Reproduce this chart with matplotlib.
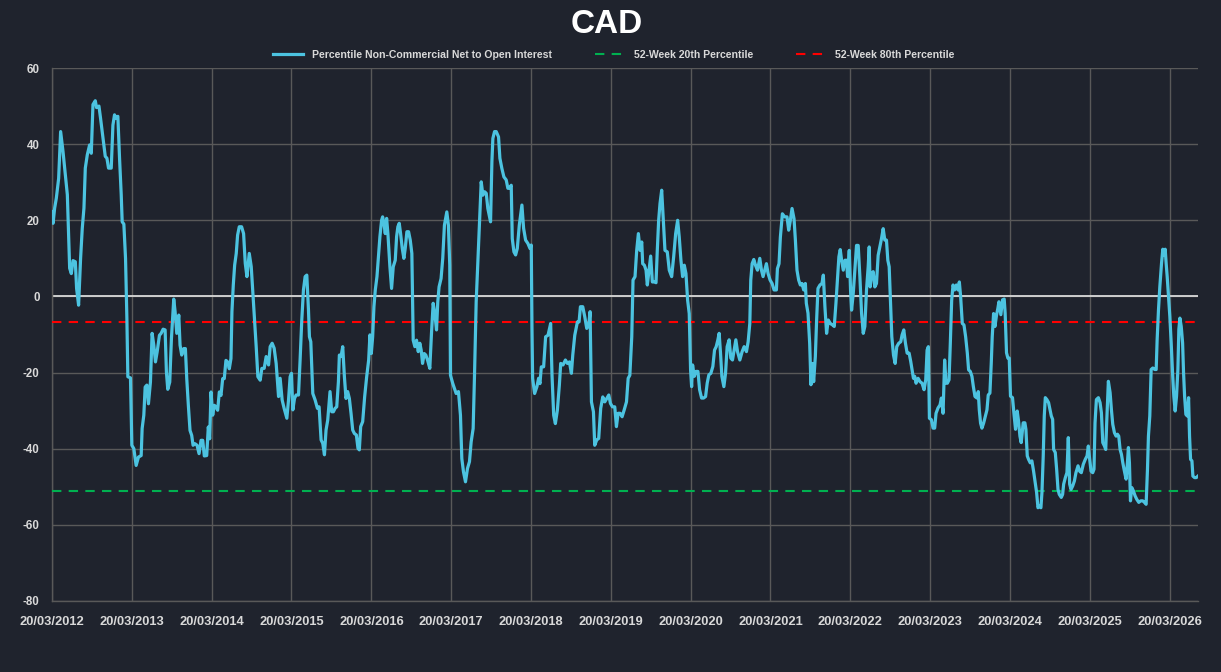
import matplotlib

matplotlib.use("Agg")

import numpy as np
import pandas as pd
from matplotlib import pyplot as plt
from matplotlib import font_manager

# weekly readings (decimal year, percentile value)
years = [
    2012.215, 2012.228, 2012.248, 2012.269, 2012.298, 2012.323, 2012.353, 2012.382, 2012.407, 2012.423,
    2012.436, 2012.457, 2012.478, 2012.507, 2012.523, 2012.548, 2012.573, 2012.594, 2012.615, 2012.632,
    2012.657, 2012.686, 2012.707, 2012.728, 2012.757, 2012.773, 2012.803, 2012.823, 2012.853, 2012.882,
    2012.903, 2012.923, 2012.957, 2012.978, 2012.998, 2013.019, 2013.040, 2013.061, 2013.082, 2013.094,
    2013.115, 2013.136, 2013.153, 2013.165, 2013.198, 2013.215, 2013.240, 2013.269, 2013.298, 2013.332,
    2013.344, 2013.365, 2013.382, 2013.403, 2013.423, 2013.448, 2013.469, 2013.490, 2013.511, 2013.532,
    2013.561, 2013.582, 2013.607, 2013.632, 2013.648, 2013.665, 2013.690, 2013.711, 2013.728, 2013.740,
    2013.757, 2013.778, 2013.803, 2013.819, 2013.840, 2013.865, 2013.886, 2013.903, 2013.923, 2013.944,
    2013.965, 2013.982, 2014.007, 2014.032, 2014.057, 2014.082, 2014.103, 2014.123, 2014.153, 2014.173,
    2014.190, 2014.207, 2014.228, 2014.248, 2014.269, 2014.290, 2014.311, 2014.332, 2014.353, 2014.373,
    2014.394, 2014.415, 2014.436, 2014.457, 2014.469, 2014.486, 2014.503, 2014.523, 2014.540, 2014.561,
    2014.590, 2014.615, 2014.636, 2014.657, 2014.686, 2014.711, 2014.732, 2014.753, 2014.773, 2014.794,
    2014.823, 2014.844, 2014.873, 2014.898, 2014.928, 2014.948, 2014.973, 2014.998, 2015.023, 2015.053,
    2015.073, 2015.098, 2015.123, 2015.157, 2015.178, 2015.198, 2015.215, 2015.232, 2015.253, 2015.273,
    2015.303, 2015.323, 2015.344, 2015.365, 2015.386, 2015.407, 2015.428, 2015.440, 2015.457, 2015.482,
    2015.511, 2015.540, 2015.561, 2015.586, 2015.607, 2015.628, 2015.648, 2015.669, 2015.698, 2015.719,
    2015.740, 2015.761, 2015.782, 2015.803, 2015.815, 2015.836, 2015.857, 2015.878, 2015.898, 2015.919,
    2015.940, 2015.961, 2015.982, 2016.003, 2016.028, 2016.048, 2016.065, 2016.082, 2016.107, 2016.132,
    2016.157, 2016.182, 2016.198, 2016.215, 2016.232, 2016.248, 2016.265, 2016.286, 2016.307, 2016.323,
    2016.344, 2016.357, 2016.373, 2016.390, 2016.407, 2016.423, 2016.448, 2016.469, 2016.490, 2016.515,
    2016.532, 2016.548, 2016.565, 2016.582, 2016.603, 2016.623, 2016.640, 2016.661, 2016.682, 2016.703,
    2016.723, 2016.732, 2016.740, 2016.761, 2016.782, 2016.803, 2016.823, 2016.840, 2016.857, 2016.878,
    2016.898, 2016.919, 2016.948, 2016.969, 2016.990, 2017.011, 2017.032, 2017.048, 2017.064, 2017.089,
    2017.110, 2017.131, 2017.161, 2017.181, 2017.198, 2017.207, 2017.236, 2017.257, 2017.278, 2017.307,
    2017.332, 2017.349, 2017.370, 2017.395, 2017.420, 2017.445, 2017.466, 2017.491, 2017.508, 2017.529,
    2017.550, 2017.571, 2017.592, 2017.613, 2017.634, 2017.655, 2017.675, 2017.709, 2017.726, 2017.738,
    2017.759, 2017.780, 2017.809, 2017.826, 2017.851, 2017.876, 2017.905, 2017.926, 2017.947, 2017.968,
    2017.981, 2018.002, 2018.023, 2018.044, 2018.069, 2018.102, 2018.123, 2018.148, 2018.177, 2018.203,
    2018.219, 2018.228, 2018.236, 2018.261, 2018.290, 2018.311, 2018.328, 2018.345, 2018.374, 2018.399,
    2018.429, 2018.462, 2018.479, 2018.500, 2018.521, 2018.546, 2018.571, 2018.588, 2018.617, 2018.647,
    2018.672, 2018.697, 2018.722, 2018.739, 2018.764, 2018.797, 2018.818, 2018.835, 2018.864, 2018.889,
    2018.914, 2018.939, 2018.956, 2018.973, 2018.998, 2019.014, 2019.039, 2019.064, 2019.089, 2019.115,
    2019.140, 2019.165, 2019.190, 2019.211, 2019.236, 2019.265, 2019.286, 2019.307, 2019.332, 2019.357,
    2019.382, 2019.412, 2019.433, 2019.454, 2019.478, 2019.494, 2019.519, 2019.540, 2019.561, 2019.582,
    2019.603, 2019.615, 2019.636, 2019.657, 2019.673, 2019.694, 2019.715, 2019.736, 2019.761, 2019.782,
    2019.798, 2019.815, 2019.832, 2019.853, 2019.869, 2019.894, 2019.923, 2019.948, 2019.978, 2020.003,
    2020.028, 2020.053, 2020.073, 2020.094, 2020.115, 2020.136, 2020.157, 2020.178, 2020.198, 2020.215,
    2020.228, 2020.240, 2020.261, 2020.282, 2020.307, 2020.328, 2020.353, 2020.378, 2020.403, 2020.423,
    2020.444, 2020.469, 2020.494, 2020.515, 2020.536, 2020.557, 2020.573, 2020.590, 2020.607, 2020.632,
    2020.653, 2020.673, 2020.698, 2020.719, 2020.740, 2020.761, 2020.782, 2020.803, 2020.832, 2020.861,
    2020.886, 2020.915, 2020.936, 2020.957, 2020.969, 2020.986, 2021.007, 2021.028, 2021.053, 2021.082,
    2021.103, 2021.123, 2021.144, 2021.165, 2021.186, 2021.211, 2021.236, 2021.261, 2021.290, 2021.303,
    2021.323, 2021.340, 2021.365, 2021.394, 2021.423, 2021.444, 2021.465, 2021.486, 2021.511, 2021.528,
    2021.548, 2021.569, 2021.590, 2021.611, 2021.632, 2021.653, 2021.665, 2021.686, 2021.707, 2021.723,
    2021.740, 2021.757, 2021.778, 2021.794, 2021.811, 2021.836, 2021.861, 2021.878, 2021.898, 2021.919,
    2021.940, 2021.965, 2021.994, 2022.015, 2022.036, 2022.057, 2022.073, 2022.090, 2022.107, 2022.128,
    2022.148, 2022.169, 2022.182, 2022.203, 2022.219, 2022.232, 2022.253, 2022.273, 2022.294, 2022.315,
    2022.336, 2022.357, 2022.378, 2022.398, 2022.419, 2022.440, 2022.453, 2022.465, 2022.482, 2022.503,
    2022.523, 2022.544, 2022.565, 2022.586, 2022.607, 2022.628, 2022.648, 2022.669, 2022.686, 2022.703,
    2022.719, 2022.736, 2022.757, 2022.778, 2022.798, 2022.823, 2022.848, 2022.865, 2022.886, 2022.907,
    2022.928, 2022.953, 2022.973, 2022.990, 2023.007, 2023.023, 2023.040, 2023.065, 2023.090, 2023.115,
    2023.140, 2023.161, 2023.178, 2023.194, 2023.207, 2023.232, 2023.253, 2023.273, 2023.290, 2023.315,
    2023.340, 2023.357, 2023.378, 2023.398, 2023.415, 2023.432, 2023.453, 2023.469, 2023.486, 2023.503,
    2023.523, 2023.544, 2023.565, 2023.582, 2023.598, 2023.619, 2023.640, 2023.661, 2023.682, 2023.698,
    2023.719, 2023.740, 2023.757, 2023.778, 2023.803, 2023.819, 2023.832, 2023.848, 2023.865, 2023.886,
    2023.907, 2023.928, 2023.944, 2023.965, 2023.982, 2023.994, 2024.011, 2024.028, 2024.048, 2024.065,
    2024.078, 2024.102, 2024.123, 2024.144, 2024.156, 2024.173, 2024.190, 2024.207, 2024.223, 2024.248,
    2024.269, 2024.286, 2024.307, 2024.324, 2024.341, 2024.357, 2024.382, 2024.403, 2024.416, 2024.433,
    2024.449, 2024.470, 2024.491, 2024.512, 2024.533, 2024.550, 2024.567, 2024.583, 2024.604, 2024.617,
    2024.633, 2024.646, 2024.659, 2024.679, 2024.700, 2024.717, 2024.734, 2024.751, 2024.763, 2024.784,
    2024.801, 2024.818, 2024.834, 2024.859, 2024.876, 2024.889, 2024.910, 2024.930, 2024.947, 2024.964,
    2024.981, 2025.002, 2025.023, 2025.043, 2025.069, 2025.089, 2025.110, 2025.135, 2025.160, 2025.182,
    2025.198, 2025.215, 2025.232, 2025.253, 2025.269, 2025.282, 2025.299, 2025.324, 2025.345, 2025.362,
    2025.379, 2025.400, 2025.416, 2025.428, 2025.449, 2025.471, 2025.487, 2025.504, 2025.525, 2025.546,
    2025.563, 2025.579, 2025.596, 2025.613, 2025.630, 2025.650, 2025.671, 2025.688, 2025.700, 2025.713,
    2025.726, 2025.742, 2025.763, 2025.784, 2025.805, 2025.830, 2025.855, 2025.880, 2025.901, 2025.922,
    2025.939, 2025.951, 2025.968, 2025.985, 2026.006, 2026.031, 2026.048, 2026.060, 2026.077, 2026.094,
    2026.115, 2026.131, 2026.148, 2026.161, 2026.173, 2026.186, 2026.203, 2026.219, 2026.236, 2026.253,
    2026.269, 2026.286, 2026.303, 2026.320, 2026.332, 2026.345, 2026.362, 2026.379, 2026.391, 2026.404,
    2026.420, 2026.437, 2026.454, 2026.466, 2026.479, 2026.496, 2026.508, 2026.529, 2026.550, 2026.571,
]
values = [
    22.3, 19.2, 23.2, 25.8, 31.0, 43.3, 38.0, 32.0, 26.7, 16.0,
    7.4, 6.0, 9.4, 9.1, 2.1, -2.3, 10.0, 17.9, 23.2, 33.7,
    37.2, 39.8, 37.6, 50.4, 51.4, 49.6, 50.0, 46.8, 41.6, 36.8,
    36.3, 33.7, 33.7, 45.0, 47.7, 46.8, 47.3, 36.3, 26.7, 19.6,
    19.0, 10.0, -5.8, -21.1, -21.4, -39.1, -40.0, -44.4, -42.2, -41.8,
    -34.7, -31.2, -23.8, -23.3, -28.2, -22.5, -9.7, -12.8, -17.2, -14.6,
    -10.2, -9.7, -8.6, -8.8, -19.8, -24.4, -22.5, -11.1, -4.9, -0.7,
    -4.0, -9.7, -4.9, -12.8, -15.4, -13.7, -13.7, -21.6, -28.6, -35.2,
    -36.5, -39.1, -38.7, -39.1, -41.3, -37.8, -37.8, -41.9, -41.8, -34.3,
    -37.4, -25.1, -31.2, -28.6, -29.0, -29.9, -25.1, -26.0, -21.6, -21.6,
    -16.8, -17.2, -19.0, -16.3, -4.0, 3.0, 8.2, 11.3, 16.1, 18.3,
    18.3, 16.5, 8.7, 5.2, 11.3, 7.8, 0.8, -6.2, -13.2, -21.1,
    -22.0, -18.9, -18.9, -15.8, -18.0, -13.2, -12.3, -13.6, -17.6, -26.3,
    -21.5, -27.2, -29.4, -32.0, -27.2, -21.1, -20.2, -29.8, -26.8, -25.9,
    -25.9, -16.7, -6.2, 1.7, 5.2, 5.6, -3.6, -10.6, -11.9, -25.5,
    -27.2, -29.4, -29.0, -37.7, -38.6, -41.6, -35.1, -32.5, -25.0, -30.3,
    -30.3, -29.4, -29.0, -22.4, -15.4, -15.8, -13.2, -21.1, -26.8, -25.0,
    -26.8, -30.7, -35.1, -36.0, -36.4, -39.9, -40.3, -34.2, -32.9, -26.3,
    -21.1, -16.7, -10.1, -15.0, -10.6, -2.7, 1.7, 5.2, 11.3, 15.7,
    20.0, 20.9, 19.2, 16.5, 20.5, 16.5, 7.8, 2.1, 7.8, 9.5,
    15.7, 18.3, 19.2, 16.5, 12.6, 10.0, 12.6, 17.0, 17.0, 14.8,
    11.3, 0.0, -11.5, -13.2, -11.5, -14.5, -12.3, -14.1, -17.6, -15.0,
    -15.4, -16.7, -18.9, -9.7, -1.8, -4.5, -8.8, -1.4, 2.5, 4.7,
    10.0, 18.7, 22.2, 18.7, 8.2, -20.7, -22.9, -24.2, -25.5, -25.0,
    -31.2, -42.6, -46.1, -48.7, -45.2, -43.4, -38.2, -34.7, -20.7, -1.4,
    9.1, 19.6, 30.1, 26.6, 27.5, 27.1, 23.1, 19.6, 35.4, 41.5,
    43.3, 43.3, 41.9, 36.3, 33.6, 31.4, 30.6, 28.4, 28.4, 29.2,
    15.2, 11.7, 10.9, 12.6, 18.7, 24.0, 17.9, 14.8, 13.9, 12.6,
    13.5, -8.4, -21.5, -25.5, -23.7, -21.5, -22.9, -18.5, -18.5, -10.6,
    -10.2, -7.1, -20.7, -31.2, -33.4, -29.9, -23.3, -17.6, -18.0, -16.7,
    -17.6, -17.2, -20.2, -15.4, -10.2, -6.7, -6.7, -2.7, -2.7, -5.3,
    -8.4, -7.5, -4.0, -27.7, -30.3, -39.1, -37.7, -37.3, -29.4, -26.4,
    -27.7, -26.8, -25.9, -28.1, -29.0, -29.0, -34.2, -30.7, -30.7, -31.6,
    -29.9, -27.7, -21.5, -20.7, -10.6, 4.3, 5.2, 12.1, 16.5, 12.1,
    14.3, 8.6, 8.2, 6.9, 3.0, 6.9, 10.6, 3.8, 3.8, 3.6,
    12.1, 20.0, 24.4, 27.9, 21.7, 12.1, 11.7, 6.9, 5.2, 10.4,
    16.5, 20.0, 15.6, 9.5, 5.2, 8.2, 6.0, -1.0, -4.5, -19.3,
    -23.7, -18.0, -21.0, -19.7, -19.7, -24.5, -26.7, -26.7, -26.3, -22.8,
    -20.6, -20.2, -18.4, -14.1, -13.2, -11.4, -9.7, -14.9, -21.0, -23.7,
    -20.2, -13.2, -11.4, -16.2, -16.7, -14.1, -11.4, -14.5, -16.7, -14.5,
    -13.2, -14.5, -11.9, -7.1, 4.3, 8.6, 9.7, 8.2, 6.9, 10.0,
    6.9, 5.2, 6.9, 8.6, 6.0, 4.3, 3.4, 1.7, 1.7, 7.3,
    8.6, 15.6, 21.7, 20.9, 20.9, 17.4, 20.0, 23.1, 20.4, 14.8,
    6.9, 4.3, 3.0, 3.4, 1.7, 3.4, -1.8, -4.4, -12.3, -23.2,
    -17.6, -22.4, -15.8, -6.2, 2.1, 3.0, 3.4, 5.6, -2.7, -9.7,
    -6.2, -7.1, -7.5, -7.9, -1.8, 5.2, 10.4, 12.3, 9.5, 6.9,
    9.5, 9.5, 5.2, 12.1, 1.7, -3.6, 0.8, 6.9, 13.4, 13.4,
    5.2, -4.4, -9.7, -7.9, 1.7, 7.8, 13.0, 2.5, 6.0, 6.5,
    2.5, 3.4, 10.8, 13.0, 15.2, 17.8, 14.8, 14.8, 9.5, 7.8,
    -1.0, -10.6, -15.4, -17.6, -13.2, -12.3, -11.9, -10.1, -8.8, -12.3,
    -14.9, -14.9, -17.1, -19.3, -21.5, -21.0, -22.8, -21.5, -22.4, -22.8,
    -24.5, -21.9, -14.1, -13.2, -32.0, -32.4, -34.6, -34.6, -30.7, -29.3,
    -28.5, -26.7, -30.7, -16.7, -22.8, -22.8, -21.9, -12.3, -1.0, 3.0,
    1.7, 3.0, 1.7, 3.8, 0.0, -7.1, -7.5, -10.6, -14.9, -19.3,
    -19.7, -21.0, -23.6, -26.3, -26.7, -25.0, -29.8, -33.3, -34.6, -33.3,
    -31.6, -29.8, -25.9, -25.4, -17.5, -10.6, -4.5, -7.9, -4.9, -3.1,
    -1.4, -4.8, -0.9, -0.7, -4.4, -14.8, -16.2, -16.2, -26.2, -26.6,
    -31.4, -34.9, -30.1, -32.8, -36.7, -38.4, -33.2, -33.2, -34.9, -41.9,
    -42.8, -43.7, -43.2, -45.9, -48.9, -51.5, -55.5, -55.0, -55.5, -51.5,
    -41.9, -31.4, -26.6, -27.1, -27.9, -29.7, -31.4, -32.3, -40.2, -41.0,
    -45.4, -50.7, -52.0, -52.8, -52.0, -49.3, -47.6, -46.3, -37.1, -49.3,
    -50.7, -49.8, -48.5, -46.3, -44.5, -45.9, -46.3, -44.1, -42.8, -41.9,
    -39.3, -42.8, -45.9, -46.3, -45.4, -33.2, -27.1, -26.6, -27.9, -30.6,
    -38.4, -39.3, -40.2, -33.2, -22.3, -25.3, -29.7, -33.6, -35.8, -36.7,
    -36.2, -36.7, -40.2, -41.5, -43.7, -45.9, -48.0, -43.7, -39.7, -43.7,
    -53.7, -50.2, -51.1, -52.4, -53.3, -54.1, -53.7, -53.7, -54.1, -54.6,
    -45.4, -36.7, -31.4, -19.2, -18.8, -19.2, -19.2, -11.4, -3.5, 2.6,
    8.7, 12.4, 10.9, 12.4, 8.7, 5.2, 0.0, -5.2, -12.2, -20.1,
    -26.2, -30.1, -26.2, -19.2, -8.7, -5.7, -7.9, -12.2, -20.1, -26.2,
    -31.0, -31.4, -26.6, -36.7, -42.8, -43.2, -47.2, -47.6, -47.6, -47.2,
]

pct20_level = -51.2
pct80_level = -6.8
y_ticks = [-80, -60, -40, -20, 0, 20, 40, 60]
tick_start = "2012-03-20"
n_ticks = 15

title = "CAD"
series_label = "Percentile Non-Commercial Net to Open Interest"
pct20_label = "52-Week 20th Percentile"
pct80_label = "52-Week 80th Percentile"

BG = "#1f232d"
GRID = "#595959"
TEXT = "#d9d9d9"
CYAN = "#4cc3e0"
GREEN = "#00b050"
RED = "#ff0000"

installed = {f.name for f in font_manager.fontManager.ttflist}
narrow = "Liberation Sans Narrow" if "Liberation Sans Narrow" in installed else "Liberation Sans"
plt.rcParams["font.family"] = [narrow, "DejaVu Sans"]
plt.rcParams["axes.unicode_minus"] = False

yrs = np.array(years)
dates = pd.Timestamp("2012-01-01") + pd.to_timedelta((yrs - 2012) * 365.25, unit="D")
ticks = pd.date_range(tick_start, periods=n_ticks, freq=pd.DateOffset(years=1))

fig = plt.figure(figsize=(12.21, 6.72), dpi=100, facecolor=BG)
ax = fig.add_axes([0.0426, 0.1057, 0.9385, 0.7931])
ax.set_facecolor(BG)

ax.plot(dates, values, color=CYAN, lw=2.3, label=series_label, zorder=4)
ax.axhline(pct20_level, color=GREEN, lw=1.5, ls=(0, (4.5, 3.5)), label=pct20_label, zorder=3)
ax.axhline(pct80_level, color=RED, lw=1.5, ls=(0, (4.5, 3.5)), label=pct80_label, zorder=3)
ax.axhline(0, color=TEXT, lw=1.3, zorder=2)

ax.set_xlim(dates[0], dates[-1])
ax.set_ylim(-80, 60)
ax.set_yticks(y_ticks)
ax.set_xticks(ticks)
ax.set_xticklabels([d.strftime("%d/%m/%Y") for d in ticks])
ax.grid(True, color=GRID, lw=1)
ax.set_axisbelow(True)

for side in ("top", "right"):
    ax.spines[side].set_visible(False)
for side in ("left", "bottom"):
    ax.spines[side].set_color(GRID)
    ax.spines[side].set_linewidth(1)

ax.tick_params(axis="x", length=0, pad=11, labelsize=9.3, colors=TEXT)
ax.tick_params(axis="y", length=0, pad=9, labelsize=8.3, colors=TEXT)
for lbl in ax.get_xticklabels() + ax.get_yticklabels():
    lbl.set_fontweight("bold")

fig.text(0.497, 0.964, title, ha="center", va="center", fontsize=24,
         fontweight="bold", color="white", family=["Liberation Sans", "DejaVu Sans"])

leg = fig.legend(loc="center", bbox_to_anchor=(0.5025, 0.918), ncol=3, frameon=False,
                 fontsize=7.6, handlelength=2.8, handletextpad=0.85, columnspacing=4.1)
for t in leg.get_texts():
    t.set_color(TEXT)
    t.set_fontweight("bold")

fig.savefig("out.png", dpi=100, facecolor=BG)
